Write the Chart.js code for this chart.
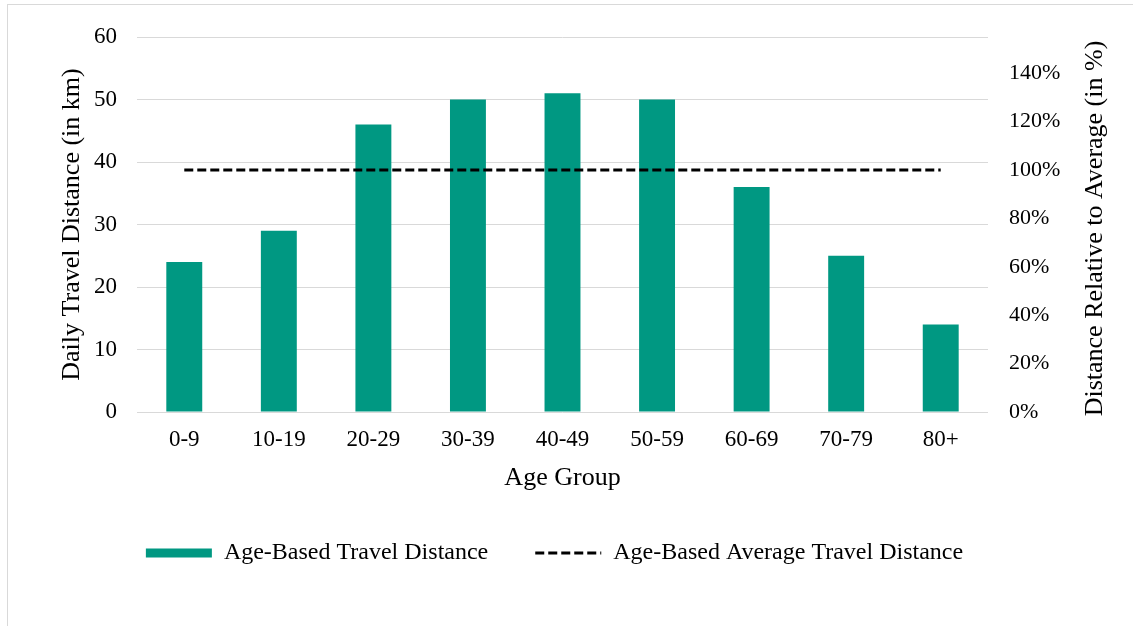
<!DOCTYPE html>
<html>
<head>
<meta charset="utf-8">
<title>Daily Travel Distance by Age Group</title>
<script src="https://cdn.jsdelivr.net/npm/chart.js@4.4.1/dist/chart.umd.min.js"></script>
<style>
  html, body { margin: 0; padding: 0; background: #fff; overflow: hidden; }
  #wrap { position: absolute; left: 0; top: 0; width: 1133px; height: 626px; }
  #frame { position: absolute; left: 7px; top: 4px; width: 1200px; height: 700px;
           border: 1px solid #d9d9d9; box-sizing: border-box; pointer-events: none; }
</style>
</head>
<body>
<div id="frame"></div>
<div id="wrap"><canvas id="chart"></canvas></div>
<script>
// Age groups on the category axis
const ageGroups = ['0-9', '10-19', '20-29', '30-39', '40-49', '50-59', '60-69', '70-79', '80+'];
// Daily travel distance per age group, km (left axis)
const travelDistanceKm = [24, 29, 46, 50, 51, 50, 36, 25, 14];
// Average travel distance as a share of itself, % (right axis)
const averageRelativePct = [100, 100, 100, 100, 100, 100, 100, 100, 100];

const seriesNames = ['Age-Based Travel Distance', 'Age-Based Average Travel Distance'];
const axisTitles = {
  x: 'Age Group',
  left: 'Daily Travel Distance (in km)',
  right: 'Distance Relative to Average (in %)'
};

const SERIF = '"Liberation Serif", "Times New Roman", serif';
Chart.defaults.font.family = SERIF;
Chart.defaults.color = '#000';

// Right-hand axis title, read bottom-to-top like the left one
const rightTitlePlugin = {
  id: 'rightTitle',
  afterDraw(chart) {
    const { ctx, chartArea } = chart;
    const s = chart.scales.y1;
    ctx.save();
    ctx.translate(s.right - 14, (chartArea.top + chartArea.bottom) / 2 + 4);
    ctx.rotate(-Math.PI / 2);
    ctx.font = '26px ' + SERIF;
    ctx.fillStyle = '#000';
    ctx.textAlign = 'center';
    ctx.textBaseline = 'middle';
    ctx.fillText(axisTitles.right, 0, 0);
    ctx.restore();
  }
};

new Chart(document.getElementById('chart'), {
  data: {
    labels: ageGroups,
    datasets: [
      {
        type: 'bar',
        label: seriesNames[0],
        data: travelDistanceKm,
        yAxisID: 'y',
        backgroundColor: '#009882',
        borderWidth: 0,
        categoryPercentage: 1,
        barPercentage: 0.38,
        order: 1
      },
      {
        type: 'line',
        label: seriesNames[1],
        data: averageRelativePct,
        yAxisID: 'y1',
        borderColor: '#000',
        backgroundColor: '#000',
        borderWidth: 3,
        borderDash: [9, 4],
        pointRadius: 0,
        fill: false,
        tension: 0,
        order: 0
      }
    ]
  },
  options: {
    responsive: true,
    maintainAspectRatio: false,
    animation: false,
    layout: { padding: { top: 37, left: 0, right: 24, bottom: 51 } },
    plugins: {
      tooltip: { enabled: false },
      legend: {
        position: 'bottom',
        labels: {
          usePointStyle: true,
          pointStyleWidth: 66,
          boxHeight: 9,
          padding: 47,
          font: { size: 24 },
          color: '#000',
          sort: (a, b) => a.datasetIndex - b.datasetIndex,
          generateLabels(chart) {
            const items = Chart.defaults.plugins.legend.labels.generateLabels(chart);
            items.forEach(it => {
              const ds = chart.data.datasets[it.datasetIndex];
              if (ds.type === 'line') {
                it.pointStyle = 'line';
                it.lineDash = ds.borderDash;
                it.lineWidth = ds.borderWidth;
                it.strokeStyle = ds.borderColor;
              } else {
                it.pointStyle = 'rect';
                it.lineWidth = 0;
              }
            });
            return items;
          }
        }
      }
    },
    scales: {
      x: {
        grid: { display: false, drawTicks: false },
        border: { display: false },
        ticks: { font: { size: 23 }, padding: 14, color: '#000' },
        title: { display: true, text: axisTitles.x, font: { size: 26 }, color: '#000', padding: { top: 0, bottom: 0 } },
        afterFit(scale) { scale.height = 82; }
      },
      y: {
        position: 'left',
        min: 0,
        max: 60,
        grid: { color: '#d9d9d9', lineWidth: 1, drawTicks: false },
        border: { display: false },
        ticks: { stepSize: 10, font: { size: 23 }, padding: 20, color: '#000' },
        title: { display: true, text: axisTitles.left, font: { size: 26 }, color: '#000', padding: { top: 57, bottom: 0 } },
        afterFit(scale) { scale.width = 137; }
      },
      y1: {
        position: 'right',
        min: 0,
        max: 155,
        grid: { display: false, drawTicks: false },
        border: { display: false },
        ticks: {
          stepSize: 20,
          font: { size: 22 },
          padding: 21,
          color: '#000',
          callback: v => v + '%'
        },
        afterBuildTicks(scale) {
          scale.ticks = scale.ticks.filter(t => t.value % 20 === 0);
        },
        afterFit(scale) { scale.width = 121; }
      }
    }
  },
  plugins: [rightTitlePlugin]
});
</script>
</body>
</html>
